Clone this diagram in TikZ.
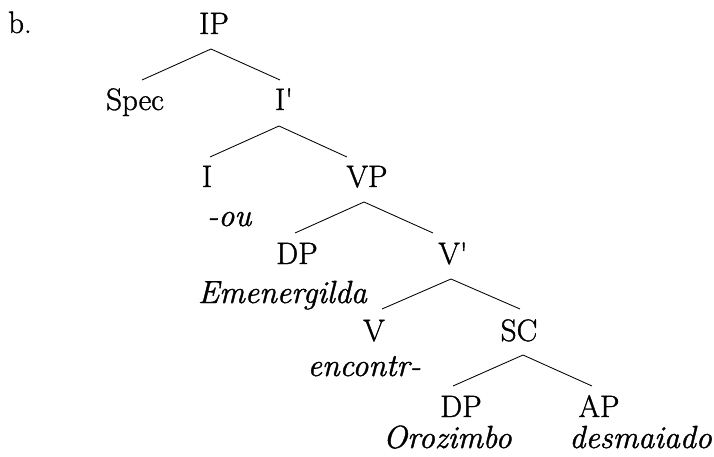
\documentclass[tikz,border=0pt]{standalone}
\usepackage{fontspec}
\setmainfont{Latin Modern Roman}[FakeBold=1.2]
\begin{document}
\begin{tikzpicture}[x=1pt,y=-1pt,
  lab/.style={inner sep=0pt, anchor=base, font=\fontsize{31}{36}\selectfont},
  itlab/.style={lab, font=\fontsize{32}{38}\selectfont\itshape},
  branch/.style={line width=0.85pt}]
\useasboundingbox (0,0) rectangle (714,457);
% labels
\node[lab, anchor=base west] (b) at (8,33) {b.};
\node[lab] (IP) at (214,34) {IP};
\node[lab] (Spec) at (135,110) {Spec};
\node[lab] (Ibar) at (284,110) {I\textquotesingle};
\node[lab] (I) at (207,187) {I};
\node[lab] (VP) at (367,187) {VP};
\node[itlab, anchor=base west] (ou) at (207,226) {-ou};
\node[lab] (DP1) at (297,264) {DP};
\node[lab] (Vbar) at (453,264) {V\textquotesingle};
\node[itlab, anchor=base east] (em) at (367,303) {Emenergilda};
\node[lab] (V) at (374,341) {V};
\node[lab] (SC) at (519,341) {SC};
\node[itlab, anchor=base east] (enc) at (421,376) {encontr-};
\node[lab] (DP2) at (461,417) {DP};
\node[lab] (AP) at (599,417) {AP};
\node[itlab, anchor=base west] (oro) at (383,448) {Orozimbo};
\node[itlab, anchor=base east] (des) at (712,448) {desmaiado};
% branch points
\coordinate (IPa) at (211,49);  \coordinate (IPl) at (142,80);  \coordinate (IPr) at (280,80);
\coordinate (Ia) at (279,126);  \coordinate (Il) at (210,157);  \coordinate (Ir) at (347,157);
\coordinate (VPa) at (364,202); \coordinate (VPl) at (295,233); \coordinate (VPr) at (433,233);
\coordinate (Va) at (451,279);  \coordinate (Vl) at (382,309);  \coordinate (Vr) at (520,309);
\coordinate (SCa) at (523,355); \coordinate (SCl) at (453,386); \coordinate (SCr) at (592,386);
\draw[branch] (IPl) -- (IPa) -- (IPr);
\draw[branch] (Il) -- (Ia) -- (Ir);
\draw[branch] (VPl) -- (VPa) -- (VPr);
\draw[branch] (Vl) -- (Va) -- (Vr);
\draw[branch] (SCl) -- (SCa) -- (SCr);
\end{tikzpicture}
\end{document}
